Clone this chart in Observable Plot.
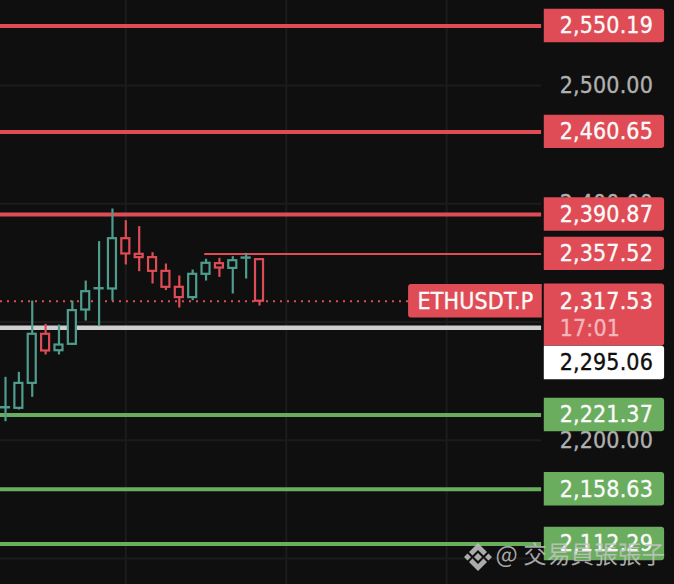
<!DOCTYPE html>
<html><head><meta charset="utf-8">
<script src="https://cdn.jsdelivr.net/npm/d3@7"></script>
<script src="https://cdn.jsdelivr.net/npm/@observablehq/plot@0.6"></script>
<style>
html,body{margin:0;padding:0;background:#0f0f0f;overflow:hidden}
svg{display:block}
text{font-stretch:condensed;letter-spacing:0.15px}
</style></head><body><div id="chart"></div>
<script>
const opens  = [2227.4,2227.0,2248.1,2289.6,2275.7,2281.1,2310.1,2328.0,2327.9,2370.4,2357.2,2354.4,2342.8,2329.3,2320.6,2340.3,2349.3,2345.3,2353.9,2352.7];
const closes = [2227.6,2248.1,2289.6,2275.5,2280.5,2309.6,2325.6,2328.2,2370.4,2357.5,2354.4,2342.8,2329.3,2320.6,2340.3,2349.6,2345.6,2351.8,2354.1,2317.53];
const highs  = [2253.2,2257.4,2317.7,2298.0,2297.4,2317.7,2334.6,2367.9,2395.5,2385.6,2380.6,2358.6,2349.0,2338.9,2343.9,2353.0,2353.8,2355.2,2358.0,2352.7];
const lows   = [2215.7,2225.6,2236.3,2272.1,2272.1,2280.5,2300.8,2296.0,2317.7,2348.2,2342.5,2332.1,2326.5,2311.8,2318.0,2334.6,2337.7,2323.7,2336.3,2313.5];
const redLevels   = [2550.19,2460.65,2390.87];
const greenLevels = [2221.37,2158.63,2112.29];
const resistance  = 2357.52;
const lastPrice   = 2317.53;
const markPrice   = 2295.06;
const gridPrices  = [2500,2400,2300,2200,2100];
const gridSessions= [9,21,33];
const axisTicks   = [2500,2400,2200];
const symbol      = "ETHUSDT.P";
const countdown   = "17:01";
const watermark   = "@ 交易員張張子";

const BG="#0f0f0f",RED="#e04c56",GREEN="#6bad5f",UP="#4f9d8d",GRID="#1c1c1c";
const FONT="'DejaVu Sans',sans-serif";
const fmt=d3.format(",.2f");
const candles=opens.map((o,i)=>({i,o,c:closes[i],h:highs[i],l:lows[i],col:closes[i]>=o?UP:RED}));
const half=14.1, plotEnd=40.1, boxL=40.3, boxR=49.3, textX=41.45, left=-0.374;
const markTagPrice=2265.3, countdownPrice=2294.6;
const tag=p=>({p,y1:p-half,y2:p+half});
const heavy=(fill)=>({fill,stroke:fill,strokeWidth:0.35,fontSize:23,textAnchor:"start"});

const wm=()=>{
  const g=d3.create("svg:g").attr("transform","translate(478,557)").attr("fill","#bdbdbd").attr("fill-opacity",0.9);
  g.append("path").attr("d",
   "M0,-14L9,-5L5.5,-1.5L0,-7L-5.5,-1.5L-9,-5Z M0,14L9,5L5.5,1.5L0,7L-5.5,1.5L-9,5Z M-14,0L-10.5,-3.5L-7,0L-10.5,3.5Z M14,0L10.5,-3.5L7,0L10.5,3.5Z M0,-4L4,0L0,4L-4,0Z");
  return g.node();
};

const chart=Plot.plot({
  width:674,height:584,margin:0,
  style:{background:BG,fontFamily:FONT},
  x:{type:"linear",domain:[left,50.04],range:[0,674],axis:null},
  y:{type:"linear",domain:[2078.08,2571.75],range:[584,0],axis:null},
  marks:[
    Plot.ruleY(gridPrices,{y:d=>d,x1:left,x2:plotEnd,stroke:GRID,strokeWidth:2}),
    Plot.ruleX(gridSessions,{x:d=>d,stroke:GRID,strokeWidth:2}),
    Plot.text(axisTicks,{x:textX,y:d=>d,text:fmt,...heavy("#b0b0b0")}),
    Plot.ruleY(redLevels,{y:d=>d,x1:left,x2:plotEnd,stroke:RED,strokeWidth:4}),
    Plot.ruleY(greenLevels,{y:d=>d,x1:left,x2:plotEnd,stroke:GREEN,strokeWidth:4}),
    Plot.ruleY([markPrice],{y:d=>d,x1:left,x2:plotEnd,stroke:"#cfcfcf",strokeWidth:4.5}),
    Plot.ruleY([resistance],{y:d=>d,x1:14.9,x2:plotEnd,stroke:RED,strokeWidth:2}),
    Plot.ruleY([lastPrice],{y:d=>d,x1:left,x2:plotEnd,stroke:RED,strokeWidth:2,strokeDasharray:"2 5"}),
    Plot.ruleX(candles,{x:"i",y1:"l",y2:"h",stroke:"col",strokeWidth:2.2}),
    Plot.rect(candles,{x1:d=>d.i-0.3,x2:d=>d.i+0.3,y1:"o",y2:"c",fill:BG,stroke:"col",strokeWidth:2.2}),
    // price tags
    Plot.rect([...redLevels,resistance].map(tag),{x1:boxL,x2:boxR,y1:"y1",y2:"y2",fill:RED,rx2:3}),
    Plot.rect(greenLevels.map(tag),{x1:boxL,x2:boxR,y1:"y1",y2:"y2",fill:GREEN,rx2:3}),
    Plot.rect([0],{x1:30.15,x2:40.15,y1:lastPrice-half,y2:lastPrice+half,fill:RED,rx1:3}),
    Plot.rect([0],{x1:boxL,x2:boxR,y1:2279.7,y2:2332.1,fill:RED,rx2:3}),
    Plot.rect([tag(markTagPrice)],{x1:boxL,x2:boxR,y1:"y1",y2:"y2",fill:"#ffffff",rx2:3}),
    Plot.text([...redLevels,resistance,lastPrice,...greenLevels],{x:textX,y:d=>d,text:fmt,...heavy("#fafafa")}),
    Plot.text([markPrice],{x:textX,y:markTagPrice,text:fmt,...heavy("#0f0f0f")}),
    Plot.text([symbol],{x:35.15,y:lastPrice,text:d=>d,fontSize:23,fill:"#fafafa",stroke:"#fafafa",strokeWidth:0.35}),
    Plot.text([countdown],{x:textX,y:countdownPrice,text:d=>d,...heavy("#f4b6ba")}),
    // watermark
    wm,
    Plot.text([watermark],{x:36.65,y:2102.5,text:d=>d,textAnchor:"start",fontSize:23.5,fill:"#c4c4c4",fillOpacity:0.85,fontFamily:"'Noto Sans CJK TC','Noto Sans',sans-serif"})
  ]
});
document.getElementById("chart").append(chart);
</script></body></html>
